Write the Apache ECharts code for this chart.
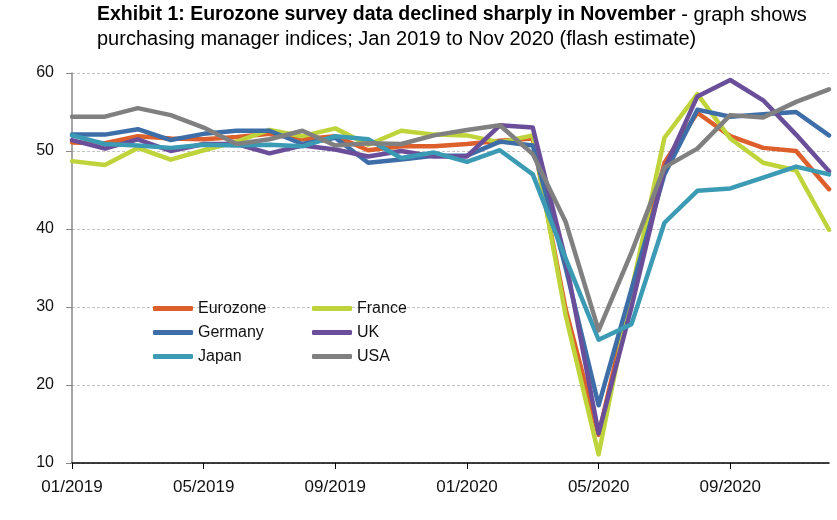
<!DOCTYPE html>
<html>
<head>
<meta charset="utf-8">
<script src="https://cdn.jsdelivr.net/npm/echarts@6/dist/echarts.min.js"></script>
<style>
html,body{margin:0;padding:0;background:#fff;}
#main{width:837px;height:520px;}
</style>
</head>
<body>
<div id="main"></div>
<script>
var categories = ['01/2019','02/2019','03/2019','04/2019','05/2019','06/2019','07/2019','08/2019','09/2019','10/2019','11/2019','12/2019',
                  '01/2020','02/2020','03/2020','04/2020','05/2020','06/2020','07/2020','08/2020','09/2020','10/2020','11/2020','12/2020'];
var eurozone = [51.1,51.0,51.9,51.6,51.5,51.8,52.2,51.5,51.9,50.1,50.6,50.6,50.9,51.3,51.6,29.7,13.6,31.9,48.5,54.9,51.9,50.4,50.0,45.1];
var france   = [48.7,48.2,50.4,48.9,50.1,51.2,52.7,51.9,52.9,50.8,52.6,52.1,52.0,51.1,52.0,28.9,11.1,32.1,51.7,57.3,51.6,48.5,47.5,39.9];
var germany  = [52.1,52.1,52.8,51.4,52.2,52.6,52.6,50.9,51.7,48.5,48.9,49.4,49.4,51.2,50.7,35.0,17.4,32.3,47.0,55.3,54.4,54.7,55.0,52.0];
var uk       = [51.4,50.3,51.5,50.0,50.9,50.9,49.7,50.7,50.2,49.3,50.0,49.3,49.3,53.3,53.0,36.0,13.8,30.0,47.7,57.0,59.1,56.5,52.1,47.4];
var japan    = [52.0,50.9,50.7,50.4,50.8,50.7,50.8,50.6,51.9,51.5,49.1,49.8,48.6,50.1,47.0,36.2,25.8,27.8,40.8,44.9,45.2,46.6,48.0,47.0];
var usa      = [54.4,54.4,55.5,54.6,53.0,50.9,51.5,52.6,50.7,51.0,50.9,52.0,52.7,53.3,49.6,40.9,27.0,37.0,47.9,50.3,54.6,54.3,56.3,57.9];

var FONT = "'Liberation Sans',Arial,sans-serif";
var colors = {
  Eurozone:'#DD5F2C', France:'#BED43A', Germany:'#3D6EA8', UK:'#6A4E9A', Japan:'#3B9AB4', USA:'#808080'
};
function mk(name, data){
  return {name:name, type:'line', data:data, symbol:'none', smooth:false,
    lineStyle:{width:4.5, color:colors[name], cap:'round', join:'round'},
    itemStyle:{color:colors[name]}, z:2};
}
function every4(i){ return i % 4 === 0; }
var chart = echarts.init(document.getElementById('main'), null, {renderer:'canvas'});
var legendCommon = {
  orient:'vertical', itemWidth:40, itemHeight:5, itemGap:5, icon:'roundRect',
  textStyle:{fontFamily:FONT, fontSize:16, color:'#111', lineHeight:19},
  selectedMode:false
};
chart.setOption({
  animation:false,
  backgroundColor:'#fff',
  title:{
    left:97, top:3, padding:0,
    text:'{b|Exhibit 1: Eurozone survey data declined sharply in November}{n| - graph shows}\n{n|purchasing manager indices; Jan 2019 to Nov 2020 (flash estimate)}',
    textStyle:{
      rich:{
        b:{fontFamily:FONT, fontSize:19.5, fontWeight:'bold', color:'#000', lineHeight:24},
        n:{fontFamily:FONT, fontSize:20, fontWeight:'normal', color:'#000', lineHeight:24}
      }
    }
  },
  legend:[
    Object.assign({left:148, top:294, data:['Eurozone','Germany','Japan']}, legendCommon),
    Object.assign({left:307, top:294, data:['France','UK','USA']}, legendCommon)
  ],
  grid:{left:72, right:8, top:73, bottom:57, containLabel:false},
  xAxis:{
    type:'category', data:categories, boundaryGap:false,
    axisLine:{lineStyle:{color:'#000', width:1.5}},
    axisTick:{show:true, interval:every4, length:6, lineStyle:{color:'#000'}},
    axisLabel:{interval:every4, fontFamily:FONT, fontSize:17, color:'#111', margin:16},
    splitLine:{show:false}
  },
  yAxis:{
    type:'value', min:10, max:60, interval:10,
    axisLine:{show:true, lineStyle:{color:'#888', width:1.5}},
    axisTick:{show:true, inside:false, length:6, lineStyle:{color:'#888'}},
    axisLabel:{fontFamily:FONT, fontSize:16, color:'#111', margin:18},
    splitLine:{show:true, lineStyle:{color:'#c4c4c4', type:[3,2], width:1}}
  },
  series:[
    mk('Eurozone', eurozone),
    mk('France', france),
    mk('Germany', germany),
    mk('UK', uk),
    mk('Japan', japan),
    mk('USA', usa)
  ]
});
</script>
</body>
</html>
